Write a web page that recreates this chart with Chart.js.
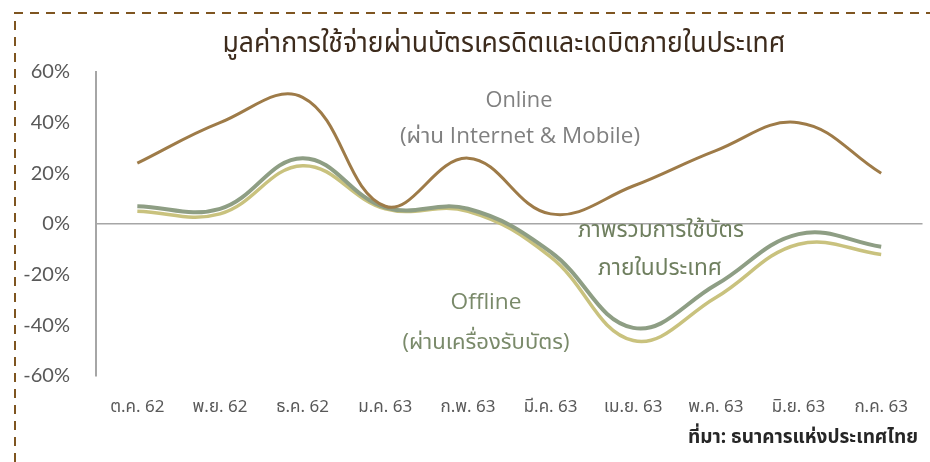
<!DOCTYPE html>
<html>
<head>
<meta charset="utf-8">
<script src="https://cdn.jsdelivr.net/npm/chart.js@4"></script>
<style>
html,body{margin:0;padding:0;background:#fff;}
#wrap{position:relative;width:930px;height:462px;}
</style>
</head>
<body>
<div id="wrap"><canvas id="c" width="930" height="462"></canvas></div>
<script>
const categories = ['ต.ค. 62','พ.ย. 62','ธ.ค. 62','ม.ค. 63','ก.พ. 63','มี.ค. 63','เม.ย. 63','พ.ค. 63','มิ.ย. 63','ก.ค. 63'];
const onlineValues = [24, 40, 50, 7, 26, 4, 15, 29, 40, 20];
const totalValues = [7, 6, 26, 6.5, 6, -11, -41, -24, -4, -9];
const offlineValues = [5, 4, 23, 6, 5, -13, -46, -29, -8, -12];
const yTicks = [-60, -40, -20, 0, 20, 40, 60];

const titleText = 'มูลค่าการใช้จ่ายผ่านบัตรเครดิตและเดบิตภายในประเทศ';
const sourceText = 'ที่มา: ธนาคารแห่งประเทศไทย';
const THAI = '"Noto Sans Thai","Noto Sans","DejaVu Sans",sans-serif';

function fitText(ctx, text, x, y, width, font, color, align) {
  ctx.save();
  ctx.font = font;
  ctx.fillStyle = color;
  ctx.textBaseline = 'middle';
  const w = ctx.measureText(text).width;
  const s = width / w;
  ctx.translate(x, y);
  ctx.scale(s, 1);
  ctx.textAlign = align || 'center';
  ctx.fillText(text, 0, 0);
  ctx.restore();
}

const decor = {
  id: 'decor',
  beforeDraw(chart) {
    const ctx = chart.ctx;
    ctx.save();
    ctx.strokeStyle = '#7e5520';
    ctx.lineWidth = 2;
    ctx.setLineDash([9, 7]);
    ctx.beginPath();
    ctx.moveTo(15, 462);
    ctx.lineTo(15, 13);
    ctx.lineTo(930, 13);
    ctx.stroke();
    ctx.restore();
  },
  afterDraw(chart) {
    const ctx = chart.ctx;
    fitText(ctx, titleText, 504, 46, 563, '29px ' + THAI, '#3d2b1c');
    fitText(ctx, sourceText, 918, 439, 230, 'bold 19px ' + THAI, '#262626', 'right');
    fitText(ctx, 'Online', 519, 101, 67, '21px "Open Sans", Lato, sans-serif', '#808080');
    fitText(ctx, '(ผ่าน Internet & Mobile)', 520, 137, 240, '21px "Open Sans",' + THAI, '#808080');
    fitText(ctx, 'ภาพรวมการใช้บัตร', 661, 232, 166, '23px ' + THAI, '#6f7f5f');
    fitText(ctx, 'ภายในประเทศ', 660, 270, 124, '23px ' + THAI, '#6f7f5f');
    fitText(ctx, 'Offline', 486, 303, 71, '22px "Open Sans", Lato, sans-serif', '#7a8a6a');
    fitText(ctx, '(ผ่านเครื่องรับบัตร)', 486, 343, 167, '22px "Open Sans",' + THAI, '#7a8a6a');
  }
};

new Chart(document.getElementById('c'), {
  type: 'line',
  data: {
    labels: categories,
    datasets: [
      {label: 'Online', data: onlineValues, borderColor: '#9e7b48', borderWidth: 3, tension: 0.4, pointRadius: 0},
      {label: 'ภาพรวม', data: totalValues, borderColor: '#8e9e84', borderWidth: 4, tension: 0.4, pointRadius: 0},
      {label: 'Offline', data: offlineValues, borderColor: '#c9c27e', borderWidth: 3.5, tension: 0.4, pointRadius: 0}
    ]
  },
  options: {
    responsive: false,
    animation: false,
    layout: {padding: {left: 15, top: 72, right: 0, bottom: 0}},
    plugins: {legend: {display: false}, tooltip: {enabled: false}},
    scales: {
      x: {
        offset: true,
        grid: {display: false, drawTicks: false},
        border: {display: false},
        ticks: {color: '#595959', font: {family: THAI, size: 17}, padding: 22, maxRotation: 0, autoSkip: false},
        afterFit: s => { s.height = 86; }
      },
      y: {
        min: -60, max: 60,
        afterBuildTicks: s => { s.ticks = yTicks.map(v => ({value: v})); },
        grid: {drawTicks: false, color: c => c.tick && c.tick.value === 0 ? '#a6a6a6' : 'rgba(0,0,0,0)', lineWidth: 1.5},
        border: {display: true, color: '#a6a6a6', width: 2},
        ticks: {color: '#595959', font: {family: 'Lato, "Open Sans", sans-serif', size: 20}, padding: 26, callback: v => v + '%'},
        afterFit: s => { s.width = 81; }
      }
    }
  },
  plugins: [decor]
});
</script>
</body>
</html>
